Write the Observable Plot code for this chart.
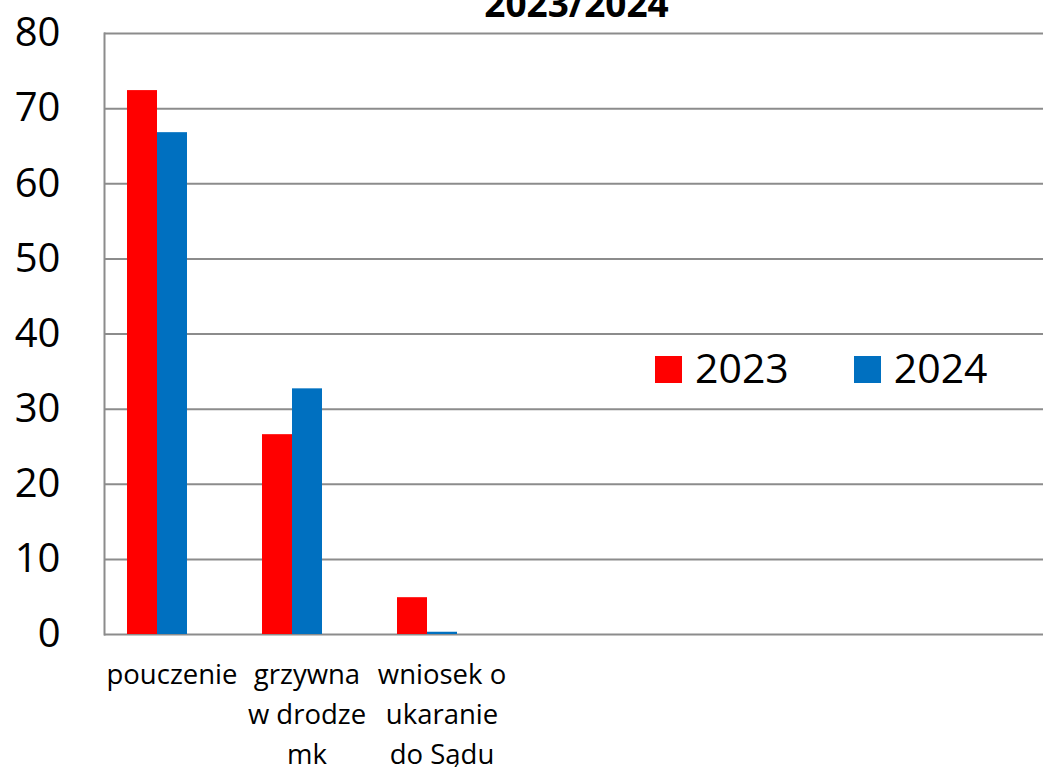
<!DOCTYPE html>
<html>
<head>
<meta charset="utf-8">
<script src="https://cdn.jsdelivr.net/npm/d3@7"></script>
<script src="https://cdn.jsdelivr.net/npm/@observablehq/plot@0.6"></script>
<style>
  html, body { margin: 0; padding: 0; background: #fff; overflow: hidden; }
  body { width: 1043px; height: 767px; position: relative; font-family: "Open Sans", sans-serif; }
  #title { position: absolute; left: 104px; width: 945px; top: -16px; text-align: center;
           font: bold 37px/37px "Open Sans", sans-serif; color: #000; z-index: 2; }
  #legend { position: absolute; left: 655px; top: 347px; display: flex; align-items: flex-start;
            font: 41px/41px "Open Sans", sans-serif; color: #000; z-index: 2; }
  #legend .item { display: flex; align-items: flex-start; }
  #legend .sw { width: 27px; height: 27px; margin-top: 9px; margin-right: 13px; }
  #legend .item + .item { margin-left: 65px; }
  #chart { position: absolute; left: 0; top: 0; }
  #chart svg { max-width: none !important; }
</style>
</head>
<body>
<div id="title"></div>
<div id="legend"></div>
<div id="chart"></div>
<script>
// ---- data ----
const categories = ["pouczenie", "grzywna\nw drodze\nmk", "wniosek o\nukaranie\ndo Sądu", "", "", "", ""];
const seriesNames = ["2023", "2024"];
const values2023 = [72.4, 26.6, 4.9];
const values2024 = [66.8, 32.7, 0.3];
const seriesColors = ["#FF0000", "#0070C0"];
const yTicks = [0, 10, 20, 30, 40, 50, 60, 70, 80];
const titleText = "2023/2024";

// build tables
const rows = [];
values2023.forEach((v, i) => rows.push({cat: i, series: seriesNames[0], value: v}));
values2024.forEach((v, i) => rows.push({cat: i, series: seriesNames[1], value: v}));
const gridRows = categories.flatMap((c, i) => yTicks.map(t => ({cat: i, t})));

document.getElementById("title").textContent = titleText;
const legend = document.getElementById("legend");
seriesNames.forEach((s, i) => {
  const it = document.createElement("div");
  it.className = "item";
  const sw = document.createElement("div");
  sw.className = "sw";
  sw.style.background = seriesColors[i];
  const t = document.createElement("span");
  t.textContent = s;
  it.appendChild(sw); it.appendChild(t);
  legend.appendChild(it);
});

const gridColor = "#8c8c8c";
const chart = Plot.plot({
  width: 1049,
  height: 767,
  marginLeft: 104,
  marginRight: 0,
  marginTop: 33,
  marginBottom: 133,
  style: {fontFamily: "'Open Sans', sans-serif", color: "#000", background: "transparent", overflow: "visible", maxWidth: "none"},
  fx: {domain: d3.range(categories.length), padding: 0, axis: null},
  x: {domain: [...seriesNames, "_empty"], paddingInner: 0, paddingOuter: 0.75, axis: null},
  y: {domain: [0, 80], axis: null},
  color: {domain: seriesNames, range: seriesColors},
  marks: [
    Plot.ruleY(gridRows, {fx: "cat", y: "t", stroke: gridColor, strokeWidth: 2}),
    Plot.frame({anchor: "left", stroke: gridColor, strokeWidth: 2, facet: "super"}),
    Plot.barY(rows, {fx: "cat", x: "series", y: "value", fill: "series"}),
    Plot.axisY(yTicks, {tickSize: 0, tickPadding: 44, fontSize: 40, label: null, tickFormat: d => String(d)}),
    Plot.axisFx({anchor: "bottom", tickSize: 0, tickPadding: 21, fontSize: 27.5, lineHeight: 1.46,
                 label: null, tickFormat: i => categories[i]})
  ]
});
document.getElementById("chart").appendChild(chart);
</script>
</body>
</html>
